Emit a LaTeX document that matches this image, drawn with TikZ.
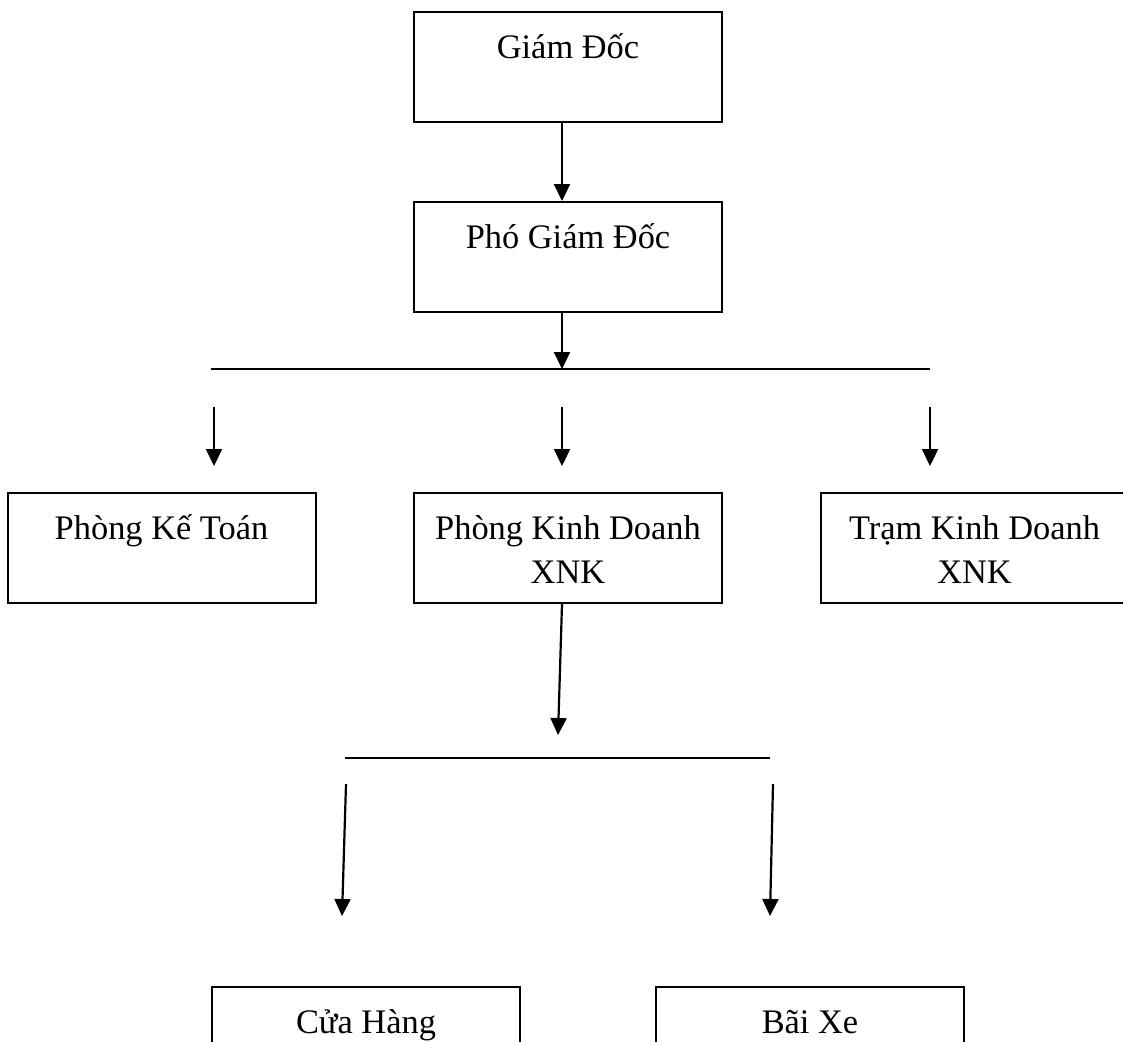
\documentclass[tikz,border=0pt]{standalone}
\usepackage{fontspec}
\setmainfont{Liberation Serif}
\usepackage{tikz}
\usetikzlibrary{arrows.meta}
\newcommand{\topline}{\rule{0pt}{20.4pt}}

\begin{document}
\begin{tikzpicture}[x=0.5pt, y=-0.5pt,
  unitbox/.style={draw, line width=1pt, minimum width=154pt, minimum height=55pt, inner sep=0pt, align=center,
    font=\fontsize{17.2pt}{22pt}\selectfont},
  arr/.style={-{Triangle[width=8pt,length=8.5pt]}, line width=1.1pt},
  bar/.style={line width=1.1pt}]
\useasboundingbox (0,0) rectangle (1123,1041);
\clip (0,0) rectangle (1123,1041);
% Org chart
\node[unitbox] (gd) at (568,66.5) {\topline Giám Đốc\\\strut};
\node[unitbox] (pgd) at (568,257) {\topline Phó Giám Đốc\\\strut};
\node[unitbox] (pkt) at (161.5,548) {\topline Phòng Kế Toán\\\strut};
\node[unitbox] (pkd) at (568,548) {\topline Phòng Kinh Doanh\\\strut XNK};
\node[unitbox] (tram) at (974.5,548) {\topline Trạm Kinh Doanh\\\strut XNK};
\node[unitbox] (ch) at (366,1042) {\topline Cửa Hàng\\\strut};
\node[unitbox] (bx) at (810,1042) {\topline Bãi Xe\\\strut};
% upper bar
\coordinate (b1) at (562,369);
\draw[arr] ([xshift=-3pt]gd.south) -- ([xshift=-3pt]pgd.north);
\draw[arr] ([xshift=-3pt]pgd.south) -- (b1);
\draw[bar] (211,369) -- (930,369);
\foreach \x/\n in {214/a, 562/b, 930/c} {
  \coordinate (t\n) at (\x,407);
  \coordinate (h\n) at (\x,466);
  \draw[arr] (t\n) -- (h\n);
}
% lower bar
\coordinate (b2) at (558,735);
\draw[arr] ([xshift=-3pt]pkd.south) -- (b2);
\draw[bar] (345,758) -- (770,758);
\coordinate (td) at (346,784);
\coordinate (hd) at (342,916);
\coordinate (te) at (773,784);
\coordinate (he) at (770,916);
\draw[arr] (td) -- (hd);
\draw[arr] (te) -- (he);
\end{tikzpicture}
\end{document}
